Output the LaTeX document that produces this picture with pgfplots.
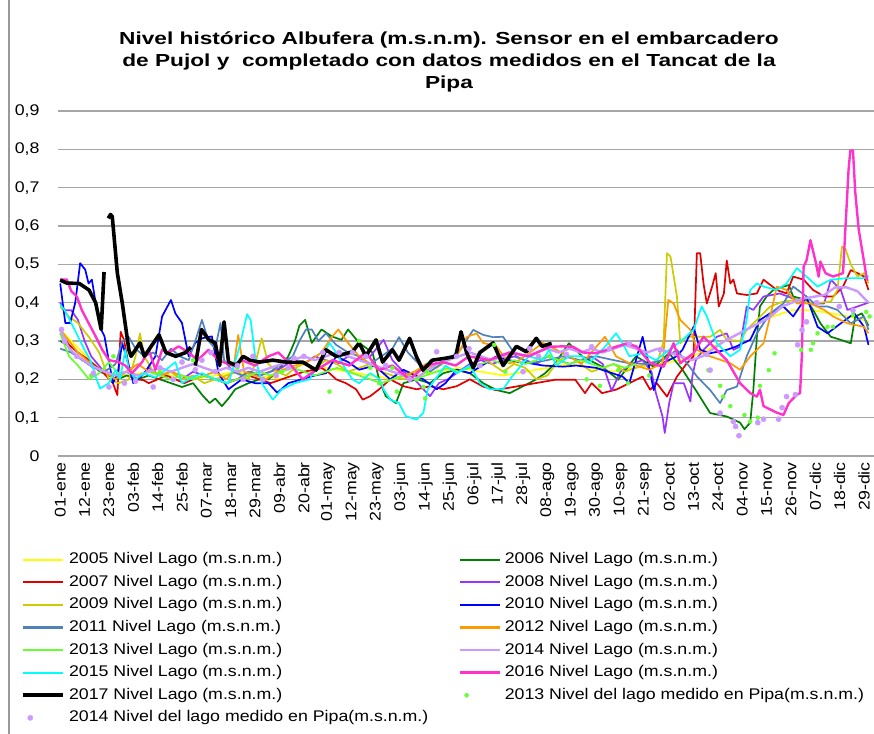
\documentclass[border=0pt]{standalone}
\usepackage{fontspec}
\setmainfont{Liberation Sans}[FakeStretch=1.15]
\newfontfamily\titlefont{Liberation Sans}[FakeStretch=1.3]
\usepackage{pgfplots}
\pgfplotsset{compat=1.18}

\definecolor{y05}{HTML}{FFFF00}
\definecolor{y06}{HTML}{008000}
\definecolor{y07}{HTML}{E00000}
\definecolor{y08}{HTML}{9933FF}
\definecolor{y09}{HTML}{CCCC00}
\definecolor{y10}{HTML}{0000FF}
\definecolor{y11}{HTML}{4F81BD}
\definecolor{y12}{HTML}{FF9900}
\definecolor{y13}{HTML}{66FF33}
\definecolor{y14}{HTML}{CC99FF}
\definecolor{y15}{HTML}{00FFFF}
\definecolor{y16}{HTML}{FF33CC}
\definecolor{gridgray}{HTML}{A6A6A6}

\pgfplotsset{
  linelegend/.style={legend image code/.code={\draw[##1] (0bp,0bp) -- (40bp,0bp);}},
  dotlegend/.style={legend image code/.code={\draw[mark repeat=2,mark phase=2,##1] plot coordinates {(0bp,0bp) (7bp,0bp) (40bp,0bp)};}},
  thinline/.style={line width=1.7bp, legend image post style={line width=2.2bp}},
}

\begin{document}
\begin{tikzpicture}[x=1bp,y=1bp]
\useasboundingbox (0,0) rectangle (874,734);
\draw[color=black!40, line width=1.6bp] (9,0) -- (9,734);
\node[font=\titlefont\bfseries\fontsize{17.5}{22}\selectfont, align=center] at (449,672)
  {Nivel histórico Albufera (m.s.n.m). Sensor en el embarcadero\\
   de Pujol y\ \ completado con datos medidos en el Tancat de la\\
   Pipa};

\begin{axis}[
  at={(58bp,278bp)}, anchor=south west,
  scale only axis, width=816bp, height=345bp,
  xmin=-1, xmax=367.5, ymin=0, ymax=0.9,
  axis line style={draw=none},
  major tick length=0pt,
  ymajorgrids, grid style={draw=gridgray, line width=1.1bp},
  ytick={0,0.1,0.2,0.3,0.4,0.5,0.6,0.7,0.8,0.9},
  /pgf/number format/fixed, /pgf/number format/precision=1,
  /pgf/number format/use comma, /pgf/number format/assume math mode=true,
  yticklabel style={font=\fontsize{15.5}{18}\selectfont, anchor=east, xshift=-15bp},
  xtick={0,11,...,363},
  xticklabels={01-ene,12-ene,23-ene,03-feb,14-feb,25-feb,07-mar,18-mar,29-mar,09-abr,20-abr,
    01-may,12-may,23-may,03-jun,14-jun,25-jun,06-jul,17-jul,28-jul,08-ago,19-ago,30-ago,
    10-sep,21-sep,02-oct,13-oct,24-oct,04-nov,15-nov,26-nov,07-dic,18-dic,29-dic},
  xticklabel style={font=\fontsize{15.5}{18}\selectfont, rotate=90, anchor=east, inner sep=2bp},
  xticklabel shift=4bp,
  no markers,
  unbounded coords=jump,
  every axis plot/.append style={line join=round},
  legend columns=2,
  legend cell align=left,
  linelegend,
  legend style={at={(axis description cs:-0.045,-0.271)}, anchor=north west,
    draw=none, fill=none, inner sep=0pt, font=\fontsize{15.5}{18}\selectfont,
    row sep=2.6bp, nodes={inner sep=2bp, text height=12bp, text depth=4bp},
    /tikz/every odd column/.append style={column sep=2bp},
    /tikz/every even column/.append style={column sep=28bp}},
]
% 2005
\addplot[y05, thinline] coordinates {(0,0.33) (5,0.30) (10,0.27) (15,0.24) (20,0.22) (30,0.21) (40,0.22) (50,0.21) (60,0.20) (70,0.21) (80,0.22) (90,0.21) (100,0.20) (110,0.22) (120,0.23) (130,0.22) (140,0.21) (150,0.20) (160,0.21) (170,0.22) (180,0.23) (190,0.22) (200,0.21) (210,0.22) (220,0.23) (230,0.24) (240,0.23) (250,0.22) (260,0.23) (270,0.24) (280,0.25) (290,0.27) (300,0.30) (310,0.33) (320,0.36) (330,0.38) (340,0.38) (350,0.37) (360,0.36) (365,0.35)};
\addlegendentry{2005 Nivel Lago (m.s.n.m.)}
% 2006
\addplot[y06, thinline] coordinates {(0,0.30) (3,0.29) (6,0.27) (10,0.25) (14,0.24) (18,0.22) (22,0.21) (26,0.20) (30,0.21) (35,0.20) (40,0.21) (45,0.20) (50,0.19) (55,0.18) (60,0.19) (64,0.16) (67.5,0.138) (70,0.15) (73,0.13) (76,0.15) (79,0.174) (85,0.19) (90,0.20) (94,0.20) (98,0.22) (103,0.26) (106,0.30) (108,0.34) (110.6,0.355) (113.6,0.295) (118,0.33) (122.6,0.312) (127,0.303) (130,0.33) (135,0.295) (141,0.27) (144,0.20) (147,0.156) (151.6,0.138) (155,0.19) (161,0.20) (167,0.19) (173,0.216) (179,0.225) (185,0.216) (191,0.19) (197,0.172) (203,0.164) (209,0.182) (215,0.20) (219,0.216) (223.6,0.242) (229.7,0.294) (235.7,0.26) (244.7,0.233) (252,0.199) (260,0.26) (268,0.233) (275,0.268) (281,0.225) (287,0.172) (293.5,0.112) (301,0.103) (307,0.087) (309,0.07) (311.6,0.087) (313,0.172) (314.6,0.311) (316,0.39) (319,0.416) (322,0.433) (326.6,0.442) (329,0.446) (331,0.416) (337,0.407) (340,0.381) (343.3,0.346) (348,0.311) (352.5,0.303) (357,0.294) (359,0.364) (362,0.372) (365,0.34)};
\addlegendentry{2006 Nivel Lago (m.s.n.m.)}
% 2007
\addplot[y07, thinline] coordinates {(0,0.32) (4,0.29) (8,0.27) (13,0.25) (19,0.22) (23.8,0.19) (25.8,0.159) (27.3,0.324) (28.8,0.303) (31,0.234) (34,0.20) (37.6,0.198) (40,0.19) (44,0.20) (48,0.21) (52,0.20) (56,0.19) (60,0.20) (65,0.21) (70,0.20) (75,0.19) (80,0.20) (85,0.21) (90,0.20) (95,0.19) (100,0.20) (105,0.21) (110,0.22) (115,0.225) (118,0.23) (121.6,0.216) (124.6,0.20) (129,0.19) (133.6,0.174) (136.6,0.147) (140,0.156) (144,0.174) (149,0.20) (155,0.182) (161,0.174) (167,0.182) (173,0.174) (179,0.182) (185,0.20) (191,0.181) (196.6,0.172) (205.7,0.181) (214.6,0.19) (223.6,0.199) (232.6,0.199) (237,0.164) (240,0.19) (244.7,0.164) (251,0.173) (257,0.19) (263,0.207) (266.4,0.173) (269.4,0.19) (274,0.155) (278.5,0.207) (283,0.242) (286,0.26) (287.5,0.529) (289,0.529) (290.5,0.45) (292,0.398) (294.4,0.442) (296,0.477) (297.4,0.39) (299.7,0.424) (301,0.51) (302.6,0.45) (304,0.46) (305.6,0.424) (310,0.42) (314.6,0.424) (317.6,0.46) (323.6,0.433) (328,0.424) (331,0.468) (335.7,0.46) (340,0.433) (345,0.416) (349,0.416) (353.5,0.442) (357,0.485) (360,0.477) (363,0.468) (365,0.433)};
\addlegendentry{2007 Nivel Lago (m.s.n.m.)}
% 2008
\addplot[y08, thinline] coordinates {(0,0.40) (2,0.38) (5,0.38) (8,0.355) (11,0.30) (14,0.26) (19,0.225) (24,0.21) (30,0.22) (35,0.20) (40,0.23) (45,0.21) (50,0.22) (55,0.20) (60,0.22) (65,0.21) (70,0.20) (75,0.19) (80,0.20) (85,0.22) (90,0.21) (95,0.22) (100,0.23) (105,0.25) (110,0.24) (115,0.26) (120,0.25) (125,0.24) (130,0.26) (135,0.25) (140,0.26) (146,0.303) (150,0.25) (155,0.22) (160,0.20) (164,0.174) (167,0.156) (171,0.19) (175,0.20) (180,0.22) (185,0.24) (190,0.25) (195,0.24) (200,0.25) (205,0.26) (210,0.25) (215,0.24) (220,0.26) (225,0.25) (230,0.24) (235,0.25) (240,0.26) (245,0.24) (249,0.17) (253,0.22) (258,0.24) (263,0.25) (267,0.22) (269,0.164) (272,0.103) (273,0.06) (275,0.138) (277,0.19) (281.6,0.19) (284.6,0.142) (285.4,0.206) (287,0.25) (290.5,0.277) (296.5,0.311) (301,0.32) (304,0.277) (307,0.285) (310,0.39) (313,0.381) (317.6,0.416) (325,0.424) (332.6,0.407) (338.7,0.398) (345,0.398) (348,0.46) (352.5,0.433) (355.5,0.381) (360,0.39) (365,0.40)};
\addlegendentry{2008 Nivel Lago (m.s.n.m.)}
% 2009
\addplot[y09, thinline] coordinates {(0,0.39) (3.8,0.364) (8,0.347) (13,0.31) (17.6,0.27) (22,0.20) (26.4,0.19) (31,0.20) (34,0.26) (36,0.32) (38,0.26) (42,0.22) (46,0.21) (50,0.22) (55,0.20) (60,0.21) (65,0.19) (70,0.20) (75,0.21) (80,0.22) (85,0.20) (88,0.24) (91,0.307) (94,0.24) (98,0.22) (102,0.21) (106,0.23) (110,0.24) (115,0.23) (120,0.25) (125,0.24) (130,0.22) (135,0.23) (140,0.24) (145,0.22) (150,0.21) (155,0.20) (160,0.22) (165,0.24) (170,0.23) (175,0.25) (180,0.26) (185,0.27) (190,0.26) (195,0.24) (200,0.22) (205,0.24) (210,0.23) (215,0.20) (220,0.21) (225,0.25) (230,0.26) (235,0.24) (240,0.22) (245,0.23) (250,0.24) (255,0.22) (260,0.23) (265,0.24) (270,0.25) (272.5,0.30) (274,0.529) (275.6,0.52) (278.5,0.416) (280,0.294) (283,0.311) (287.6,0.311) (293.5,0.311) (298,0.329) (301,0.303) (307,0.30) (310,0.329) (314.6,0.355) (320.6,0.39) (326.6,0.403) (332.6,0.407) (340,0.398) (348,0.403) (351,0.433) (353,0.546) (354.6,0.54) (357,0.50) (360,0.468) (363,0.477) (365,0.45)};
\addlegendentry{2009 Nivel Lago (m.s.n.m.)}
% 2010
\addplot[y10, thinline] coordinates {(0,0.45) (2.3,0.347) (4.5,0.347) (6.8,0.40) (9,0.503) (11.3,0.486) (12.8,0.45) (14.3,0.46) (16,0.40) (18.5,0.33) (20,0.312) (21.6,0.26) (23.8,0.19) (26,0.216) (28,0.295) (30.5,0.245) (33,0.19) (38,0.216) (43,0.26) (46,0.364) (50,0.407) (52,0.372) (55,0.347) (58,0.26) (61,0.295) (64,0.307) (68.5,0.312) (71.5,0.216) (76,0.174) (82,0.20) (88,0.19) (94,0.19) (98,0.165) (103,0.19) (109,0.20) (115,0.21) (120,0.216) (124.6,0.26) (130,0.245) (135,0.225) (142,0.236) (149,0.20) (155,0.225) (164,0.20) (170,0.174) (174,0.19) (179,0.225) (185,0.216) (191,0.238) (197,0.26) (206,0.245) (212,0.242) (218,0.236) (227,0.233) (233,0.236) (242,0.23) (254,0.207) (257,0.19) (263,0.311) (265,0.26) (268,0.172) (272,0.242) (278,0.259) (281,0.277) (286,0.337) (289,0.277) (293.5,0.268) (301,0.277) (305,0.285) (311.6,0.303) (316,0.355) (320.5,0.372) (326.6,0.39) (331,0.364) (337,0.416) (342,0.337) (346.5,0.32) (352.5,0.346) (358.6,0.372) (363,0.337) (365,0.29)};
\addlegendentry{2010 Nivel Lago (m.s.n.m.)}
% 2011
\addplot[y11, thinline] coordinates {(0,0.28) (5,0.27) (10,0.25) (15,0.23) (20,0.22) (25,0.24) (28,0.30) (31,0.31) (34,0.28) (38,0.26) (42,0.27) (46,0.25) (50,0.28) (54,0.26) (58,0.25) (61,0.30) (64,0.355) (67,0.30) (70,0.28) (72.4,0.347) (74,0.25) (78,0.22) (82,0.21) (86,0.22) (90,0.21) (95,0.22) (100,0.24) (105,0.26) (108,0.30) (111,0.33) (113.6,0.33) (116.6,0.30) (120,0.32) (124.6,0.29) (130,0.27) (135,0.26) (140,0.24) (145,0.26) (150,0.28) (153,0.31) (157,0.27) (162,0.24) (167,0.22) (172,0.24) (177,0.26) (181,0.28) (186.5,0.329) (191,0.316) (195.5,0.31) (200,0.311) (206,0.26) (212,0.242) (220,0.25) (227,0.26) (235,0.25) (242,0.26) (250,0.25) (257,0.242) (265,0.24) (272,0.25) (278.5,0.277) (283,0.242) (287.6,0.207) (293.5,0.172) (298,0.138) (301,0.172) (305.6,0.181) (310,0.26) (314.6,0.32) (320.6,0.372) (326.6,0.398) (331,0.442) (337,0.416) (342,0.39) (346.5,0.39) (351,0.381) (357,0.346) (363,0.364) (365,0.329)};
\addlegendentry{2011 Nivel Lago (m.s.n.m.)}
% 2012
\addplot[y12, thinline] coordinates {(0,0.33) (4,0.30) (8,0.27) (12,0.25) (16,0.23) (20,0.22) (25,0.20) (30,0.22) (35,0.24) (40,0.22) (45,0.21) (50,0.22) (55,0.21) (60,0.20) (65,0.21) (70,0.22) (75,0.20) (78,0.22) (80.4,0.316) (83,0.22) (88,0.21) (93,0.20) (98,0.22) (103,0.23) (108,0.24) (113,0.25) (118,0.27) (122.6,0.31) (125.6,0.33) (130,0.295) (135,0.26) (140,0.24) (145,0.23) (150,0.22) (155,0.21) (160,0.22) (165,0.23) (170,0.24) (175,0.25) (180,0.27) (183.5,0.31) (188,0.32) (191,0.295) (197,0.286) (202.6,0.242) (206,0.245) (211.6,0.268) (218,0.295) (227,0.268) (235.6,0.242) (246,0.311) (251,0.26) (257,0.242) (266,0.225) (272,0.242) (274.6,0.407) (277,0.398) (280,0.355) (284.6,0.329) (287.6,0.277) (293.5,0.26) (302.6,0.242) (307,0.225) (311.6,0.26) (317.6,0.294) (320.6,0.364) (323.6,0.442) (328,0.433) (332.6,0.398) (338.7,0.398) (345,0.381) (349,0.364) (355.5,0.346) (363,0.337) (365,0.32)};
\addlegendentry{2012 Nivel Lago (m.s.n.m.)}
% 2013
\addplot[y13, thinline] coordinates {(0,0.32) (4,0.26) (8,0.236) (13,0.20) (17.6,0.216) (22,0.245) (26,0.216) (30,0.22) (35,0.21) (40,0.22) (45,0.21) (50,0.20) (55,0.21) (60,0.20) (65,0.21) (70,0.20) (75,0.19) (80,0.20) (85,0.21) (90,0.22) (95,0.21) (100,0.22) (105,0.23) (110,0.22) (115,0.21) (120,0.22) (125,0.23) (130,0.22) (135,0.21) (140,0.20) (145,0.19) (150,0.20) (155,0.21) (160,0.20) (165,0.21) (170,0.22) (175,0.23) (180,0.22) (185,0.23) (190,0.24) (195,0.25) (200,0.24) (205,0.25) (210,0.24) (215,0.25) (220,0.26) (225,0.25) (230,0.24) (235,0.25) (240,0.24) (245,0.23) (250,0.24) (255,0.23) (260,0.24)};
\addlegendentry{2013 Nivel Lago (m.s.n.m.)}
% 2014
\addplot[y14, line width=2.4bp] coordinates {(0,0.33) (4,0.28) (8,0.26) (14,0.236) (20,0.22) (25,0.21) (30,0.22) (35,0.21) (40,0.22) (45,0.23) (50,0.22) (55,0.23) (60,0.24) (65,0.23) (70,0.22) (75,0.23) (80,0.22) (85,0.23) (90,0.22) (95,0.23) (100,0.24) (105,0.25) (110,0.26) (115,0.25) (120,0.26) (125,0.27) (130,0.26) (135,0.25) (140,0.24) (145,0.23) (150,0.22) (155,0.21) (160,0.20) (165,0.22) (170,0.24) (175,0.25) (180,0.26) (185,0.27) (190,0.26) (195,0.25) (200,0.26) (205,0.27) (210,0.26) (215,0.27) (220,0.28) (225,0.27) (230,0.28) (235,0.27) (240,0.28) (245,0.27) (250,0.28) (255,0.29) (260,0.28) (265,0.27) (270,0.28) (275,0.27) (280,0.26) (285,0.25) (290,0.26) (300,0.30) (310,0.33) (320,0.36) (326,0.39) (335,0.41) (345,0.42) (350,0.44) (355,0.44) (360,0.43) (365,0.40)};
\addlegendentry{2014 Nivel Lago (m.s.n.m.)}
% 2015
\addplot[y15, thinline] coordinates {(0,0.395) (2,0.38) (5,0.347) (8,0.312) (11,0.277) (14,0.245) (16.4,0.20) (18,0.176) (22,0.19) (25,0.225) (27,0.20) (29.4,0.277) (31,0.225) (34,0.20) (38,0.216) (43,0.205) (47.7,0.225) (52,0.245) (55,0.19) (59.6,0.205) (64,0.216) (70,0.20) (76,0.19) (80.6,0.277) (84.4,0.37) (86,0.355) (88,0.26) (91,0.19) (96,0.147) (100,0.174) (106,0.19) (112.6,0.20) (118.6,0.26) (121.6,0.295) (124.6,0.27) (129,0.225) (132,0.20) (135,0.19) (140,0.216) (144.3,0.20) (146,0.174) (149,0.147) (153,0.138) (156,0.104) (161,0.095) (164,0.113) (166,0.174) (170,0.205) (174,0.236) (179,0.216) (185,0.236) (189.5,0.19) (194,0.174) (200,0.174) (204,0.207) (211.6,0.26) (218,0.25) (220.7,0.277) (224,0.236) (229.7,0.26) (236,0.26) (238.7,0.242) (246,0.285) (251,0.32) (254,0.294) (257,0.26) (263,0.268) (269,0.25) (275,0.277) (281,0.303) (286,0.329) (289.7,0.39) (292,0.364) (296.5,0.294) (302.6,0.26) (307,0.277) (310,0.355) (311.6,0.433) (314.6,0.45) (317.6,0.442) (323.6,0.433) (328,0.45) (332.7,0.49) (337,0.468) (342,0.442) (348,0.46) (355.5,0.464) (363,0.464) (365,0.47)};
\addlegendentry{2015 Nivel Lago (m.s.n.m.)}
% 2016
\addplot[y16, line width=2.4bp] coordinates {(0,0.46) (3,0.46) (5,0.43) (7.5,0.416) (9.8,0.38) (12.8,0.347) (16,0.312) (19,0.277) (22,0.25) (26.4,0.245) (29.4,0.236) (32.4,0.216) (37,0.245) (40,0.277) (43,0.225) (46,0.277) (49,0.27) (53.5,0.286) (58,0.27) (62,0.25) (67,0.277) (71.5,0.25) (77.5,0.236) (82,0.25) (88,0.236) (94,0.26) (98.5,0.27) (103,0.245) (109.5,0.20) (115.5,0.224) (123,0.25) (130.5,0.236) (138,0.27) (144,0.224) (150,0.236) (157.8,0.20) (165,0.236) (172.7,0.245) (178.6,0.236) (184.6,0.26) (193.7,0.25) (202.7,0.27) (211.7,0.26) (221,0.285) (227,0.286) (231.6,0.285) (236,0.27) (242,0.268) (251,0.285) (256,0.294) (260.4,0.285) (266.5,0.242) (272.5,0.233) (277,0.294) (280,0.242) (286,0.268) (290.5,0.311) (295,0.285) (301,0.25) (307,0.19) (311.6,0.164) (314.6,0.155) (316,0.173) (317.6,0.13) (323.6,0.113) (326.6,0.107) (329,0.138) (332.6,0.16) (334.1,0.164) (334.9,0.26) (335.7,0.494) (337,0.51) (338.8,0.563) (341,0.51) (342.5,0.468) (343.3,0.507) (345.6,0.477) (349,0.468) (353.5,0.477) (356,0.746) (356.8,0.797) (358,0.797) (359,0.69) (360.6,0.59) (362.9,0.51) (364.3,0.46) (365,0.46)};
\addlegendentry{2016 Nivel Lago (m.s.n.m.)}
% 2017
\addplot[black, line width=3.6bp] coordinates {(0,0.459) (3,0.451) (8.6,0.45) (13,0.433) (16,0.40) (18.5,0.33) (19.8,0.48) (20.7,nan) (21.7,0.62) (22.7,0.63) (23.5,0.625) (25.8,0.477) (28,0.40) (31,0.277) (32,0.26) (36,0.295) (38,0.26) (44.6,0.316) (47.7,0.27) (52.2,0.26) (56.7,0.27) (59,0.284) (60,nan) (61,0.236) (63.8,0.33) (67,0.304) (70,0.295) (72,0.236) (74,0.35) (76,0.245) (79.6,0.236) (82.6,0.26) (85.6,0.25) (90,0.245) (96,0.25) (102,0.245) (109.5,0.245) (115.5,0.224) (120,0.277) (124.6,0.26) (127.6,0.265) (132,0.272) (135,0.295) (138,0.26) (142.6,0.303) (145.6,0.245) (150,0.277) (153,0.25) (157.8,0.307) (160.8,0.26) (163.8,0.224) (168,0.25) (174,0.255) (178.6,0.26) (181,0.324) (183.5,0.27) (186.5,0.23) (189.5,0.27) (195.5,0.295) (200,0.236) (206,0.286) (210.5,0.272) (215,0.307) (217.6,0.286) (221.9,0.294)};
\addlegendentry{2017 Nivel Lago (m.s.n.m.)}
% 2013 Pipa
\addplot[only marks, mark=*, mark size=2bp, color=y13, dotlegend]
  coordinates {(14,0.21) (24,0.26) (45,0.22) (60,0.25) (80,0.23) (100,0.22) (121.6,0.168) (135,0.30) (140,0.23) (144,0.19) (150,0.23) (152,0.168) (161,0.20) (164,0.18) (164.8,0.15) (165.6,0.22) (196,0.29) (201,0.22) (221,0.26) (237.7,0.20) (243.7,0.183) (252,0.224) (256.4,0.19) (266,0.21) (292.7,0.224) (298,0.183) (299.4,0.155) (302.6,0.13) (309,0.107) (311.6,0.09) (315,0.10) (316,0.183) (320,0.224) (322.6,0.268) (334.6,0.277) (339,0.277) (340,0.294) (342,0.32) (346.5,0.337) (349,0.337) (358,0.368) (364,0.376) (365.5,0.364)};
\addlegendentry{2013 Nivel del lago medido en Pipa(m.s.n.m.)}
% 2014 Pipa
\addplot[only marks, mark=*, mark size=2.6bp, color=y14, dotlegend]
  coordinates {(0.6,0.33) (2,0.30) (7.5,0.26) (15,0.216) (22,0.18) (29,0.19) (34,0.195) (42,0.18) (45,0.23) (51,0.20) (55,0.245) (61,0.225) (64,0.25) (68,0.27) (70,0.22) (80,0.236) (82.6,0.20) (87,0.26) (91.6,0.20) (97.5,0.21) (103,0.23) (105.6,0.255) (110,0.26) (118.6,0.27) (126,0.27) (132,0.27) (138,0.26) (147,0.236) (157.8,0.20) (170,0.272) (179,0.26) (184.6,0.28) (189.5,0.236) (209,0.22) (212,0.28) (216,0.26) (228.6,0.265) (240,0.285) (248,0.28) (257,0.294) (271,0.277) (292,0.265) (293.5,0.224) (298,0.112) (304,0.09) (305,0.077) (306.5,0.053) (315,0.087) (317.6,0.096) (324.4,0.096) (326,0.126) (328,0.155) (332,0.16) (333,0.29) (335,0.329) (337,0.35) (341.6,0.40) (351.8,0.39) (358,0.38) (368,0.398)};
\addlegendentry{2014 Nivel del lago medido en Pipa(m.s.n.m.)}
\end{axis}
\end{tikzpicture}
\end{document}
